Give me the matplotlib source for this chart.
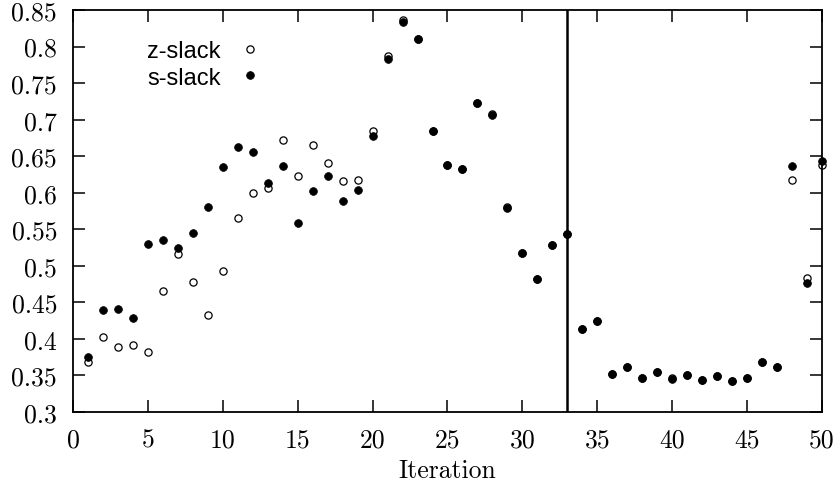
import matplotlib
matplotlib.use("Agg")
import matplotlib.pyplot as plt

# iteration number and the two slack measures
iterations = list(range(1, 51))
z_slack = [0.368, 0.402, 0.389, 0.391, 0.382, 0.465, 0.516, 0.478, 0.433, 0.493,
           0.565, 0.600, 0.607, 0.672, 0.623, 0.665, 0.641, 0.616, 0.618, 0.684,
           0.787, 0.836, 0.811, 0.685, 0.638, 0.633, 0.723, 0.708, 0.581, 0.518,
           0.482, 0.528, 0.543, 0.414, 0.425, 0.352, 0.361, 0.347, 0.355, 0.346,
           0.351, 0.344, 0.349, 0.342, 0.346, 0.368, 0.362, 0.618, 0.484, 0.638]
s_slack = [0.375, 0.439, 0.441, 0.428, 0.530, 0.535, 0.525, 0.545, 0.581, 0.635,
           0.663, 0.656, 0.613, 0.637, 0.558, 0.602, 0.623, 0.589, 0.604, 0.677,
           0.783, 0.834, 0.810, 0.684, 0.638, 0.633, 0.723, 0.707, 0.579, 0.517,
           0.482, 0.528, 0.543, 0.414, 0.425, 0.352, 0.361, 0.347, 0.355, 0.345,
           0.351, 0.344, 0.349, 0.342, 0.346, 0.368, 0.362, 0.636, 0.476, 0.643]
split_iter = 33

x_ticks = [0, 5, 10, 15, 20, 25, 30, 35, 40, 45, 50]
y_ticks = [0.3, 0.35, 0.4, 0.45, 0.5, 0.55, 0.6, 0.65, 0.7, 0.75, 0.8, 0.85]

fig = plt.figure(figsize=(8.38, 4.89), dpi=100)
ax = fig.add_axes([0.0871, 0.1554, 0.8938, 0.8221])

ax.plot(iterations, z_slack, linestyle="none", marker="o", markersize=5.2,
        markerfacecolor="none", markeredgecolor="black", markeredgewidth=0.9,
        label="z-slack", clip_on=False, zorder=3)
ax.plot(iterations, s_slack, linestyle="none", marker="o", markersize=5.6,
        markerfacecolor="black", markeredgecolor="black", markeredgewidth=0.5,
        label="s-slack", clip_on=False, zorder=4)
ax.axvline(split_iter, color="black", linewidth=1.8, zorder=2)

ax.set_xlim(0, 50)
ax.set_ylim(0.3, 0.85)
ax.set_xticks(x_ticks)
ax.set_yticks(y_ticks)
ax.set_xticklabels([str(t) for t in x_ticks], fontfamily="cmr10", fontsize=18.5)
ax.set_yticklabels(["%g" % t for t in y_ticks], fontfamily="cmr10", fontsize=18.5)
ax.set_xlabel("Iteration", fontfamily="cmr10", fontsize=18.5, labelpad=5)

ax.tick_params(direction="in", length=8.5, width=1.1, top=True, right=True)
ax.tick_params(axis="x", pad=11)
ax.tick_params(axis="y", pad=11.5)
for sp in ax.spines.values():
    sp.set_linewidth(1.3)

leg = ax.legend(loc="upper left", bbox_to_anchor=(0.083, 0.955), frameon=False,
                markerfirst=False, handlelength=1.0, handletextpad=0.75,
                labelspacing=0.2, borderpad=0,
                prop={"family": "Liberation Sans", "size": 17})

fig.savefig("out.png", dpi=100)
